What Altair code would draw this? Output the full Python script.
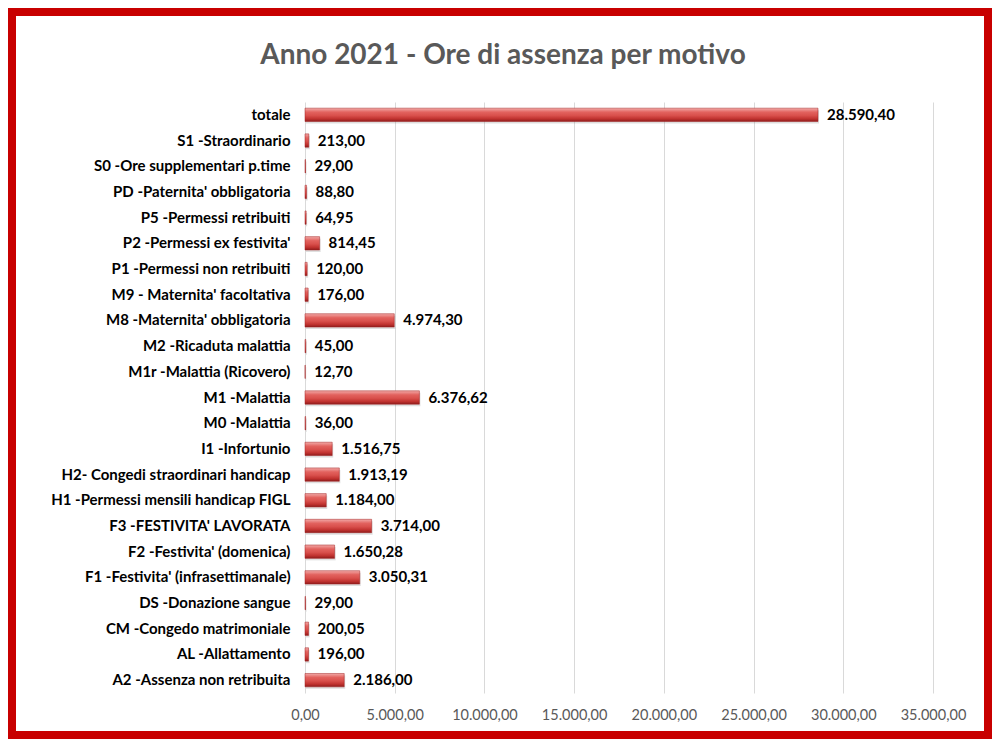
import altair as alt
import pandas as pd

categories = [
    "totale",
    "S1 -Straordinario",
    "S0 -Ore supplementari p.time",
    "PD -Paternita' obbligatoria",
    "P5 -Permessi retribuiti",
    "P2 -Permessi ex festivita'",
    "P1 -Permessi non retribuiti",
    "M9 - Maternita' facoltativa",
    "M8 -Maternita' obbligatoria",
    "M2 -Ricaduta malattia",
    "M1r -Malattia (Ricovero)",
    "M1 -Malattia",
    "M0 -Malattia",
    "I1 -Infortunio",
    "H2- Congedi straordinari handicap",
    "H1 -Permessi mensili handicap FIGL",
    "F3 -FESTIVITA' LAVORATA",
    "F2 -Festivita' (domenica)",
    "F1 -Festivita' (infrasettimanale)",
    "DS -Donazione sangue",
    "CM -Congedo matrimoniale",
    "AL -Allattamento",
    "A2 -Assenza non retribuita ",
]
values = [
    28590.40, 213.00, 29.00, 88.80, 64.95, 814.45, 120.00, 176.00, 4974.30,
    45.00, 12.70, 6376.62, 36.00, 1516.75, 1913.19, 1184.00, 3714.00,
    1650.28, 3050.31, 29.00, 200.05, 196.00, 2186.00,
]
x_ticks = [0, 5000, 10000, 15000, 20000, 25000, 30000, 35000]
title_text = ["Anno 2021 - Ore di assenza per motivo"]

df = pd.DataFrame({"motivo": categories, "ore": values})

W, H = 628, 591
L, T, R, B = 293, 90, 55, 42

y_enc = alt.Y(
    "motivo:N",
    sort=categories,
    scale=alt.Scale(paddingInner=0.48, paddingOuter=0.24),
    axis=alt.Axis(
        title=None, labelFont="Lato", labelFontSize=15, labelFontWeight="bold",
        labelColor="#000000", ticks=False, domain=False, labelPadding=15,
        labelLimit=400, grid=False,
    ),
)
x_enc = alt.X(
    "ore:Q",
    scale=alt.Scale(domain=[0, 35000], nice=False),
    axis=alt.Axis(
        title=None, values=x_ticks, format=",.2f", labelFont="Lato",
        labelFontSize=14.5, labelColor="#595959", ticks=False, domain=False,
        labelPadding=15, grid=True, gridColor="#D9D9D9", gridWidth=1,
        labelOverlap=False, labelFlush=False,
    ),
)

base = alt.Chart(df)

shadow = base.mark_bar(color="#808080", opacity=0.25, yOffset=2, xOffset=1).encode(
    x=alt.X("ore:Q"), y=alt.Y("motivo:N", sort=categories)
)

grad = alt.Gradient(
    gradient="linear",
    stops=[
        alt.GradientStop(color="#F2AAA8", offset=0),
        alt.GradientStop(color="#E2625E", offset=0.3),
        alt.GradientStop(color="#D9504C", offset=0.55),
        alt.GradientStop(color="#C0322F", offset=0.8),
        alt.GradientStop(color="#8E1C1C", offset=1),
    ],
    x1=0, x2=0, y1=0, y2=1,
)
bars = base.mark_bar(color=grad, stroke="#A32222", strokeWidth=0.5).encode(x=x_enc, y=y_enc)

labels = base.mark_text(
    align="left", baseline="middle", dx=9, font="Lato", fontSize=15,
    fontWeight="bold", color="#000000",
).encode(
    x=alt.X("ore:Q"),
    y=alt.Y("motivo:N", sort=categories),
    text=alt.Text("ore:Q", format=",.2f"),
)

title = alt.Chart(pd.DataFrame({"t": title_text})).mark_text(
    font="Lato", fontSize=28, fontWeight="bold", color="#595959",
    align="center", baseline="middle",
).encode(text="t:N", x=alt.value(198), y=alt.value(-46))

frame = alt.Chart(pd.DataFrame({"k": [0]})).mark_rect(
    filled=False, stroke="#C80000", strokeWidth=8
).encode(
    x=alt.value(-L), x2=alt.value(W + R), y=alt.value(-T), y2=alt.value(H + B)
)

chart = (
    alt.layer(shadow, bars, labels, title, frame)
    .properties(width=W, height=H, padding=0, background="#FFFFFF")
    .configure(locale={"number": {"decimal": ",", "thousands": ".", "grouping": [3], "currency": ["", " €"]}})
    .configure_view(strokeWidth=0)
)

chart.save("out.html", embed_options={"renderer": "svg", "actions": False})
